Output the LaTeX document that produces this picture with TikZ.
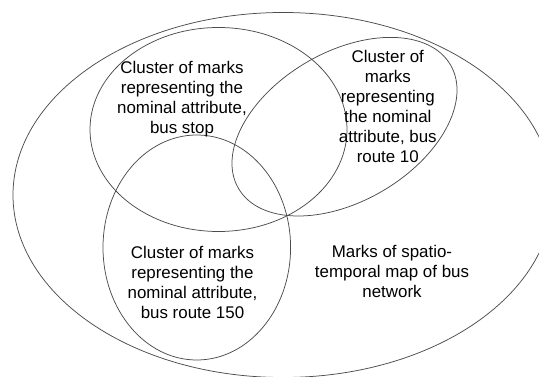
\documentclass[tikz,border=0pt]{standalone}
\usepackage{fontspec}
\setmainfont{Liberation Sans}
\usepackage{tikz}
\tikzset{cluster/.style={draw=black!70, line width=0.75pt},
    marktext/.style={align=center, inner sep=0pt,
        font=\fontsize{16.9}{20}\selectfont}}

\begin{document}
\begin{tikzpicture}[x=1pt, y=-1pt]
                    \useasboundingbox (0,0) rectangle (539,377);
                    \clip (0,0) rectangle (539,377);
                    %Whole network, cut at the right:
                        \draw[cluster] (283,195) ellipse [x radius=270pt, y radius=182.5pt];
                    %Clusters of the nominal attribute:
                        \draw[cluster] (218.5,129.5) ellipse [x radius=128.5pt, y radius=102pt];
                        \draw[cluster, rotate around={30.2:(344.5,126.7)}] (344.5,126.7) ellipse [x radius=122.7pt, y radius=74.7pt];
                        \draw[cluster] (196.8,247.5) ellipse [x radius=93.8pt, y radius=112.5pt];
                    %Texts:
                        \node[marktext] (stoptext) at (182,99.3) {Cluster of marks\\representing the\\nominal attribute,\\bus stop};
                        \node[marktext] (tentext) at (387.8,106.7) {Cluster of\\marks\\representing\\the nominal\\attribute, bus\\route 10};
                        \node[marktext] (fiftytext) at (192.5,282.5) {Cluster of marks\\representing the\\nominal attribute,\\bus route 150};
                        \node[marktext] (maptext) at (392,271.7) {Marks of spatio-\\temporal map of bus\\network};
                \end{tikzpicture}
\end{document}
